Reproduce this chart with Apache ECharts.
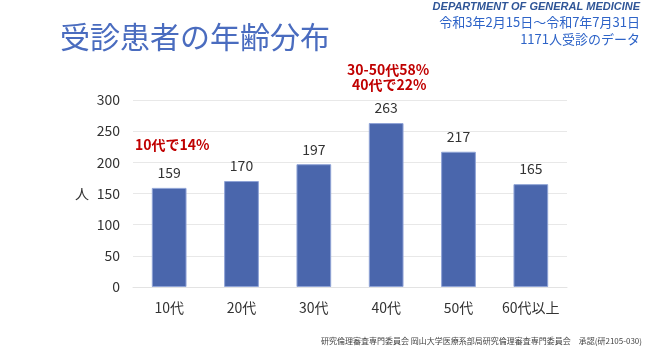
<!DOCTYPE html>
<html>
<head>
<meta charset="utf-8">
<script src="https://cdn.jsdelivr.net/npm/echarts@6/dist/echarts.min.js"></script>
<style>
html, body { margin: 0; padding: 0; background: #fff; }
#chart { width: 650px; height: 351px; }
</style>
</head>
<body>
<div id="chart"></div>
<script>
var categories = ['10代', '20代', '30代', '40代', '50代', '60代以上'];
var patients = [159, 170, 197, 263, 217, 165];
var yTicks = [0, 50, 100, 150, 200, 250, 300];

var font = '"Noto Sans CJK JP", "Noto Sans", sans-serif';
var chart = echarts.init(document.getElementById('chart'));

chart.setOption({
    backgroundColor: '#fff',
    animation: false,
    textStyle: { fontFamily: font },
    title: {
        text: '受診患者の年齢分布',
        left: 55,
        top: 17,
        textStyle: { fontSize: 30, fontWeight: 'normal', color: '#4a6cbf', fontFamily: font }
    },
    grid: { left: 133, top: 100, width: 434, height: 187 },
    xAxis: {
        type: 'category',
        data: categories,
        axisLine: { lineStyle: { color: '#e3e3e3' } },
        axisTick: { show: false },
        axisLabel: { color: '#333', fontSize: 14, margin: 14, interval: 0, fontFamily: font }
    },
    yAxis: {
        type: 'value',
        min: yTicks[0],
        max: yTicks[yTicks.length - 1],
        interval: 50,
        name: '人',
        nameLocation: 'middle',
        nameRotate: 0,
        nameGap: 44,
        nameTextStyle: { color: '#333', fontSize: 14, fontFamily: font },
        axisLine: { show: false },
        axisTick: { show: false },
        splitLine: { lineStyle: { color: '#e8e8e8' } },
        axisLabel: { color: '#333', fontSize: 14, margin: 13, fontFamily: font }
    },
    series: [{
        type: 'bar',
        data: patients,
        barWidth: '48%',
        itemStyle: { color: '#4a66ac', borderColor: '#8fa3d6', borderWidth: 1 },
        label: {
            show: true,
            position: 'top',
            distance: 8,
            color: '#333',
            fontSize: 14,
            fontFamily: font
        }
    }],
    graphic: [
        { type: 'text', right: 10, top: 1, style: { text: 'DEPARTMENT OF GENERAL MEDICINE', fill: '#2f5597', font: 'italic bold 11px "Liberation Sans", sans-serif' } },
        { type: 'text', right: 10, top: 16, style: { text: '令和3年2月15日～令和7年7月31日', fill: '#2e64c8', font: '13px ' + font } },
        { type: 'text', right: 10, top: 33, style: { text: '1171人受診のデータ', fill: '#2e64c8', font: '13px ' + font } },
        { type: 'text', left: 135, top: 138, style: { text: '10代で14%', fill: '#c00000', font: 'bold 14px ' + font } },
        { type: 'text', left: 347, top: 63, style: { text: '30-50代58%', fill: '#c00000', font: 'bold 14px ' + font } },
        { type: 'text', left: 352, top: 78, style: { text: '40代で22%', fill: '#c00000', font: 'bold 14px ' + font } },
        { type: 'text', right: 8, top: 337, style: { text: '研究倫理審査専門委員会 岡山大学医療系部局研究倫理審査専門委員会　承認(研2105-030)', fill: '#444', font: '8px ' + font } }
    ]
});
</script>
</body>
</html>
